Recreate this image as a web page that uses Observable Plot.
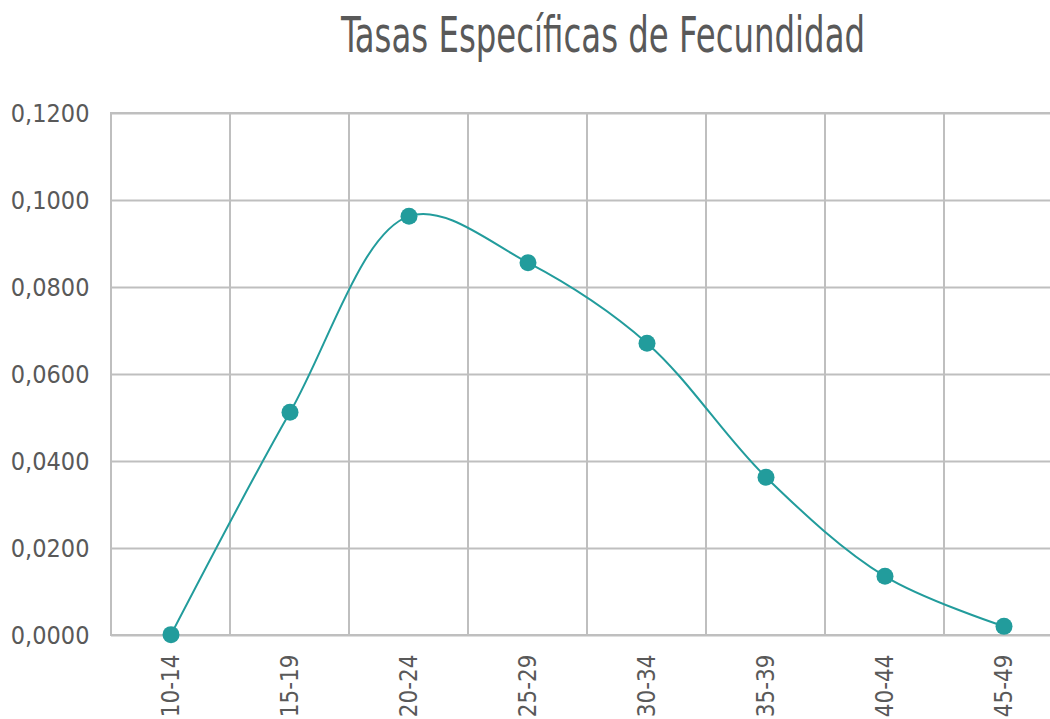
<!DOCTYPE html>
<html><head><meta charset="utf-8">
<script src="https://cdn.jsdelivr.net/npm/d3@7"></script>
<script src="https://cdn.jsdelivr.net/npm/@observablehq/plot@0.6"></script>
<style>
html,body{margin:0;padding:0;background:#fff;overflow:hidden;width:1050px;height:719px;}
#title{position:relative;height:90px;font-family:"DejaVu Sans Condensed","Liberation Sans Narrow",sans-serif;color:#595959;}
#title span{position:absolute;left:603px;top:6px;transform:translateX(-50%) scaleX(0.72);font-size:50px;white-space:nowrap;}
#chart{position:relative;width:1080px;}
#chart svg{max-width:none !important;}
</style></head>
<body>
<div id="title"><span>Tasas Específicas de Fecundidad</span></div>
<div id="chart"></div>
<script>
const ageGroups = ["10-14","15-19","20-24","25-29","30-34","35-39","40-44","45-49"];
const rates = [0.0002, 0.0513, 0.0964, 0.0857, 0.0672, 0.0364, 0.0136, 0.0021];
const yTicks = [0, 0.02, 0.04, 0.06, 0.08, 0.10, 0.12];
const yMax = 0.12;

const data = ageGroups.map((g, i) => ({group: g, rate: rates[i]}));
const fmt = v => v.toFixed(4).replace(".", ",");
const teal = "#229c9c";
const grid = "#bfbfbf";

const chart = Plot.plot({
  width: 1080,
  height: 635,
  marginTop: 23,
  marginBottom: 90,
  marginLeft: 111,
  marginRight: 17,
  style: {fontFamily: "'DejaVu Sans Condensed','Liberation Sans Narrow',sans-serif", color: "#595959", background: "#fff", maxWidth: "none"},
  x: {type: "band", domain: ageGroups, padding: 0},
  y: {domain: [0, yMax]},
  marks: [
    Plot.ruleY(yTicks, {stroke: grid, strokeWidth: 2}),
    Plot.barY(ageGroups, {x: d => d, y: () => yMax, fill: "none", stroke: grid, strokeWidth: 2}),
    Plot.axisY({ticks: yTicks, tickFormat: fmt, tickSize: 0, tickPadding: 22, fontSize: 25, label: null}),
    Plot.axisX({tickSize: 0, tickRotate: -90, tickPadding: 19, fontSize: 24, label: null}),
    Plot.line(data, {x: "group", y: "rate", stroke: teal, strokeWidth: 2, curve: "catmull-rom"}),
    Plot.dot(data, {x: "group", y: "rate", r: 8.5, fill: teal, stroke: "none"})
  ]
});
document.getElementById("chart").appendChild(chart);
</script>
</body></html>
